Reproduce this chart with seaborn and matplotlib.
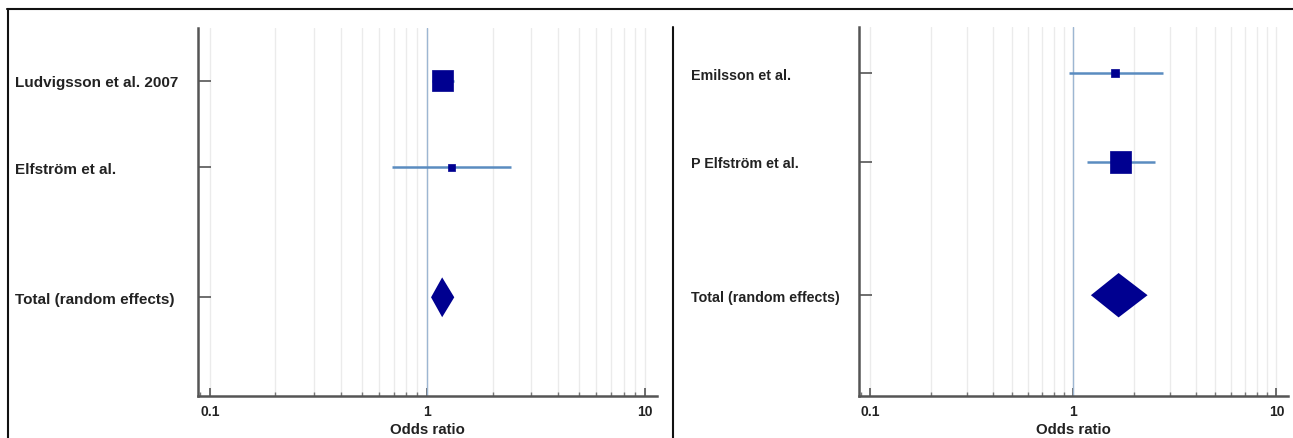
import numpy as np
import pandas as pd
import matplotlib.pyplot as plt
from matplotlib.lines import Line2D
from matplotlib.ticker import LogLocator, NullFormatter, FixedLocator

import seaborn as sns
sns.set_style("white")
plt.rcParams['font.family'] = ['Liberation Sans', 'DejaVu Sans']

# left panel
left_studies = ['Ludvigsson et al. 2007', 'Elfström et al.']
left_or = [1.18, 1.29]
left_lo = [1.05, 0.69]
left_hi = [1.32, 2.43]
left_weight = [85, 15]
left_total = [1.04, 1.17, 1.33]   # lo, estimate, hi

# right panel
right_studies = ['Emilsson et al.', 'P Elfström et al.']
right_or = [1.60, 1.70]
right_lo = [0.95, 1.17]
right_hi = [2.76, 2.51]
right_weight = [12, 88]
right_total = [1.22, 1.67, 2.32]

total_label = 'Total (random effects)'
xticks = [0.1, 1, 10]
xtick_labels = ['0.1', '1', '10']

W, H = 1293, 439
fig = plt.figure(figsize=(W / 100, H / 100), dpi=100)

navy = '#000090'
ci_col = '#5a8cc0'


def panel(rect, studies, ors, lo, hi, weight, total, ylim, fs, pad, dh):
    ax = fig.add_axes(rect)
    df = pd.DataFrame({'study': studies, 'OR': ors, 'lo': lo, 'hi': hi,
                       'w': weight, 'y': np.arange(1, len(studies) + 1)})
    ax.set_xscale('log')
    # gridlines
    for v in [a * b for b in (0.1, 1) for a in range(1, 10)] + [10]:
        ax.axvline(v, color='#ebebeb', lw=1, zorder=0)
    ax.axvline(1, color='#9db6d2', lw=1, zorder=1)
    ax.hlines(df['y'], df['lo'], df['hi'], color=ci_col, lw=1.8, zorder=2)
    sizes = {max(weight): 230, min(weight): 30}
    sns.scatterplot(data=df, x='OR', y='y', size='w', sizes=sizes, marker='s',
                    color=navy, edgecolor=navy, linewidth=0.5, legend=False,
                    ax=ax, zorder=3)
    ty = len(studies) + 1.5
    tlo, test, thi = total
    ax.fill([tlo, test, thi, test], [ty, ty - dh, ty, ty + dh],
            color=navy, lw=0, zorder=3)

    ax.set_xlim(0.088, 11.4)
    ax.set_ylim(*ylim)
    ax.set_yticks(list(df['y']) + [ty])
    ax.set_yticklabels(studies + [total_label], ha='left', fontsize=fs,
                       fontweight='bold', color='#222222')
    ax.tick_params(axis='y', direction='in', length=9, width=1.2,
                   color='#555555', pad=pad, left=True)
    ax.xaxis.set_major_locator(FixedLocator(xticks))
    ax.set_xticklabels(xtick_labels, fontsize=10, fontweight='bold',
                       color='#222222')
    ax.xaxis.set_minor_locator(LogLocator(base=10, subs=np.arange(2, 10)))
    ax.xaxis.set_minor_formatter(NullFormatter())
    ax.tick_params(axis='x', which='major', direction='in', length=6,
                   width=1.2, color='#555555', pad=6, bottom=True)
    ax.tick_params(axis='x', which='minor', direction='in', length=3,
                   width=1, color='#777777', bottom=True)
    ax.set_xlabel('Odds ratio', fontsize=10.8, fontweight='bold',
                  color='#222222', labelpad=3)
    ax.set_ylabel('')
    sns.despine(ax=ax)
    for s in ('left', 'bottom'):
        ax.spines[s].set_color('#555555')
        ax.spines[s].set_linewidth(1.8)
    return ax


panel([198 / W, 42 / H, 459 / W, 368 / H], left_studies, left_or, left_lo,
      left_hi, left_weight, left_total, (4.64, 0.39), 11, 131.5, 0.23)
panel([859 / W, 42 / H, 429 / W, 369 / H], right_studies, right_or, right_lo,
      right_hi, right_weight, right_total, (4.635, 0.48), 10.3, 121, 0.25)

# frame lines
fig.add_artist(Line2D([7 / W, 1], [1 - 10 / H, 1 - 10 / H], color='#111111',
                      lw=1.5, transform=fig.transFigure))
fig.add_artist(Line2D([8 / W, 8 / W], [0, 1 - 10 / H], color='#111111',
                      lw=1.5, transform=fig.transFigure))
fig.add_artist(Line2D([673 / W, 673 / W], [0, 1 - 28 / H], color='#111111',
                      lw=1.5, transform=fig.transFigure))

fig.savefig('out.png', dpi=100)
